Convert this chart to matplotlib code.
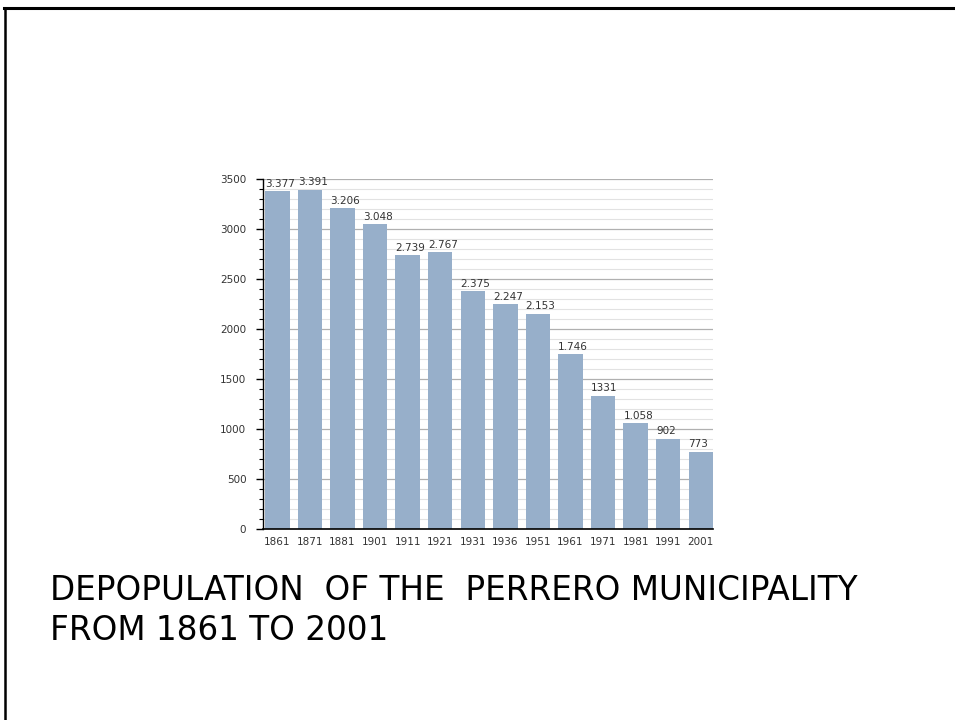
import matplotlib
matplotlib.use("Agg")
import matplotlib.pyplot as plt
import matplotlib.ticker as ticker
from matplotlib.lines import Line2D

# -------------------------------------------------------
# Data
# -------------------------------------------------------
years  = ["1861", "1871", "1881", "1901", "1911", "1921", "1931",
          "1936", "1951", "1961", "1971", "1981", "1991", "2001"]
pop    = [3377, 3391, 3206, 3048, 2739, 2767, 2375,
          2247, 2153, 1746, 1331, 1058, 902, 773]
labels = ["3.377", "3.391", "3.206", "3.048", "2.739", "2.767", "2.375",
          "2.247", "2.153", "1.746", "1331", "1.058", "902", "773"]
title_lines = ["DEPOPULATION  OF THE  PERRERO MUNICIPALITY",
               "FROM 1861 TO 2001"]

BAR_COLOR = "#97afca"
BAR_W     = 0.75

fig = plt.figure(figsize=(9.55, 7.2), dpi=100)
ax = fig.add_axes([0.2754, 0.2653, 0.4712, 0.4861])

x = list(range(len(years)))
ax.bar(x, pop, width=BAR_W, color=BAR_COLOR, zorder=2)

for xi, v, lab in zip(x, pop, labels):
    ax.text(xi - BAR_W / 2, v + 25, lab, ha="left", va="bottom",
            fontsize=7.5, color="#333333", clip_on=False)

# axes
ax.set_xlim(-0.44, len(years) - 1 + BAR_W / 2)
ax.set_ylim(0, 3500)
ax.set_xticks(x)
ax.set_xticklabels(years, fontsize=7.5, color="#333333")
ax.tick_params(axis="x", length=0, pad=6)
ax.yaxis.set_major_locator(ticker.MultipleLocator(500))
ax.yaxis.set_minor_locator(ticker.MultipleLocator(100))
ax.tick_params(axis="y", which="major", length=5, width=1, labelsize=7.5,
               labelcolor="#333333", pad=7)
ax.tick_params(axis="y", which="minor", length=3, width=0.8)

ax.grid(True, axis="y", which="major", color="#b0b0b0", linewidth=0.9, zorder=0)
ax.grid(True, axis="y", which="minor", color="#e2e2e2", linewidth=0.8, zorder=0)
ax.set_axisbelow(True)

for s in ["top", "right"]:
    ax.spines[s].set_visible(False)
ax.spines["left"].set_linewidth(1.0)
ax.spines["bottom"].set_linewidth(1.2)

# title text (two lines)
fig.text(0.052, 1 - 590 / 720, title_lines[0], ha="left", va="center",
         fontsize=23.5, color="black")
fig.text(0.052, 1 - 631 / 720, title_lines[1], ha="left", va="center",
         fontsize=23.5, color="black")

# slide frame (top + left)
fig.add_artist(Line2D([4 / 955, 1.0], [1 - 8 / 720, 1 - 8 / 720],
                      transform=fig.transFigure, color="black", linewidth=2.2))
fig.add_artist(Line2D([4.5 / 955, 4.5 / 955], [0, 1 - 8 / 720],
                      transform=fig.transFigure, color="black", linewidth=1.8))

fig.savefig("out.png", dpi=100)
